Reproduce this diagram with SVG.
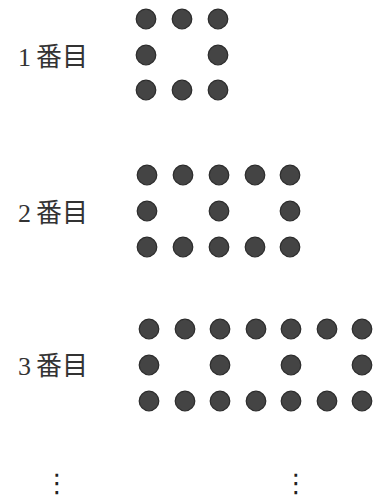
<svg xmlns="http://www.w3.org/2000/svg" width="378" height="499" viewBox="0 0 378 499">
<defs>
<style>
.lbl{font-family:"Liberation Serif","Noto Sans CJK JP",serif;font-size:26px;fill:#333}
.d{fill:#444;stroke:#2b2b2b;stroke-width:1.2}
.el{font-family:"DejaVu Sans",sans-serif;font-size:26px;fill:#222;text-anchor:middle}
</style>
<circle id="dot" class="d" r="9.8"/>
</defs>
<rect width="378" height="499" fill="#fff"/>
<g id="fig1">
<text class="lbl" x="18" y="66">1<tspan dx="5">番目</tspan></text>
<g id="dots1">
<use href="#dot" x="146" y="19"/><use href="#dot" x="182" y="19"/><use href="#dot" x="218" y="19"/>
<use href="#dot" x="146" y="55"/><use href="#dot" x="218" y="55"/>
<use href="#dot" x="146" y="90"/><use href="#dot" x="182" y="90"/><use href="#dot" x="218" y="90"/>
</g>
</g>
<g id="fig2">
<text class="lbl" x="18" y="222">2<tspan dx="5">番目</tspan></text>
<g id="dots2">
<use href="#dot" x="147" y="175"/><use href="#dot" x="183" y="175"/><use href="#dot" x="219" y="175"/><use href="#dot" x="255" y="175"/><use href="#dot" x="290" y="175"/>
<use href="#dot" x="147" y="211"/><use href="#dot" x="219" y="211"/><use href="#dot" x="290" y="211"/>
<use href="#dot" x="147" y="247"/><use href="#dot" x="183" y="247"/><use href="#dot" x="219" y="247"/><use href="#dot" x="255" y="247"/><use href="#dot" x="290" y="247"/>
</g>
</g>
<g id="fig3">
<text class="lbl" x="18" y="375">3<tspan dx="5">番目</tspan></text>
<g id="dots3">
<use href="#dot" x="149" y="329"/><use href="#dot" x="185" y="329"/><use href="#dot" x="220" y="329"/><use href="#dot" x="256" y="329"/><use href="#dot" x="291" y="329"/><use href="#dot" x="327" y="329"/><use href="#dot" x="362" y="329"/>
<use href="#dot" x="149" y="365"/><use href="#dot" x="220" y="365"/><use href="#dot" x="291" y="365"/><use href="#dot" x="362" y="365"/>
<use href="#dot" x="149" y="401"/><use href="#dot" x="185" y="401"/><use href="#dot" x="220" y="401"/><use href="#dot" x="256" y="401"/><use href="#dot" x="291" y="401"/><use href="#dot" x="327" y="401"/><use href="#dot" x="362" y="401"/>
</g>
</g>
<g id="ellipsis">
<text class="el" x="57" y="492">⋮</text>
<text class="el" x="296" y="492">⋮</text>
</g>
</svg>
